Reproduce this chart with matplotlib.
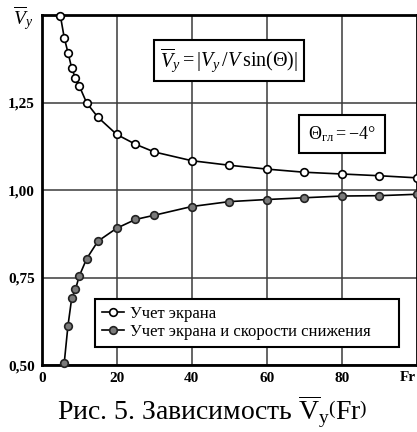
import matplotlib
matplotlib.use("Agg")
import matplotlib.pyplot as plt

plt.rcParams['font.family'] = ['Liberation Serif', 'DejaVu Serif']
plt.rcParams['mathtext.fontset'] = 'custom'
plt.rcParams['mathtext.rm'] = 'Liberation Serif'
plt.rcParams['mathtext.it'] = 'Liberation Serif:italic'
plt.rcParams['mathtext.bf'] = 'Liberation Serif:bold'

# Data
fr_screen = [5, 6, 7, 8, 9, 10, 12, 15, 20, 25, 30, 40, 50, 60, 70, 80, 90, 100]
vy_screen = [1.497, 1.436, 1.393, 1.349, 1.319, 1.298, 1.249, 1.208, 1.159, 1.131,
             1.109, 1.084, 1.071, 1.060, 1.051, 1.046, 1.041, 1.035]
fr_descent = [6, 7, 8, 9, 10, 12, 15, 20, 25, 30, 40, 50, 60, 70, 80, 90, 100]
vy_descent = [0.505, 0.612, 0.691, 0.716, 0.754, 0.804, 0.854, 0.891, 0.916, 0.928,
              0.953, 0.967, 0.973, 0.978, 0.983, 0.984, 0.988]
x_ticks = [0, 20, 40, 60, 80]
y_ticks = [0.50, 0.75, 1.00, 1.25]
y_tick_labels = ['0,50', '0,75', '1,00', '1,25']
label_screen = 'Учет экрана'
label_descent = 'Учет экрана и скорости снижения'

fig = plt.figure(figsize=(4.17, 4.32), dpi=100)
ax = fig.add_axes([0.1, 0.155, 0.8993, 0.810])
ax.set_xlim(0, 100)
ax.set_ylim(0.5, 1.5)

ax.set_xticks(x_ticks)
ax.set_yticks(y_ticks)
ax.set_yticklabels(y_tick_labels)
ax.tick_params(length=0, labelsize=11, pad=5)
for lab in ax.get_xticklabels() + ax.get_yticklabels():
    lab.set_fontweight('bold')
ax.grid(True, color='#3a3a3a', linewidth=1.1)
ax.set_axisbelow(True)
for s in ax.spines.values():
    s.set_linewidth(2.0)
    s.set_color('black')

ax.plot(fr_screen, vy_screen, '-o', color='black', linewidth=1.2,
        markersize=5.5, markerfacecolor='white', markeredgecolor='black',
        markeredgewidth=1.2, clip_on=False, zorder=5, label=label_screen)
ax.plot(fr_descent, vy_descent, '-o', color='black', linewidth=1.2,
        markersize=5.5, markerfacecolor='#7a7a7a', markeredgecolor='#222222',
        markeredgewidth=1.2, clip_on=False, zorder=5, label=label_descent)

leg = ax.legend(loc='lower left', bbox_to_anchor=(0.142, 0.051, 0.811, 0.149),
                mode='expand', fancybox=False, framealpha=1, edgecolor='black',
                fontsize=12, handlelength=1.3, handletextpad=0.35,
                borderpad=0.45, labelspacing=0.1, borderaxespad=0)
leg.get_frame().set_linewidth(1.5)

ax.text(0.5, 0.871, r'$\overline{V}_y = |V_y\,/V\,\mathrm{sin}(\Theta)|$',
        transform=ax.transAxes, ha='center', va='center', fontsize=14.5,
        bbox=dict(boxstyle='square,pad=0.3', facecolor='white', edgecolor='black', linewidth=1.5))
ax.text(0.801, 0.661, r'$\Theta_{\mathrm{гл}} = -4°$', transform=ax.transAxes,
        ha='center', va='center', fontsize=13,
        bbox=dict(boxstyle='square,pad=0.5', facecolor='white', edgecolor='black', linewidth=1.5))

fig.text(0.055, 0.957, r'$\overline{V}_y$', ha='center', va='center', fontsize=14)
fig.text(0.997, 0.127, 'Fr', ha='right', va='center', fontsize=11, fontweight='bold')
fig.text(0.51, 0.046, r'Рис. 5. Зависимость $\overline{\mathrm{V}}_{\mathrm{y}}\left(\mathrm{Fr}\right)$',
         ha='center', va='center', fontsize=20)

fig.savefig('out.png', dpi=100)
